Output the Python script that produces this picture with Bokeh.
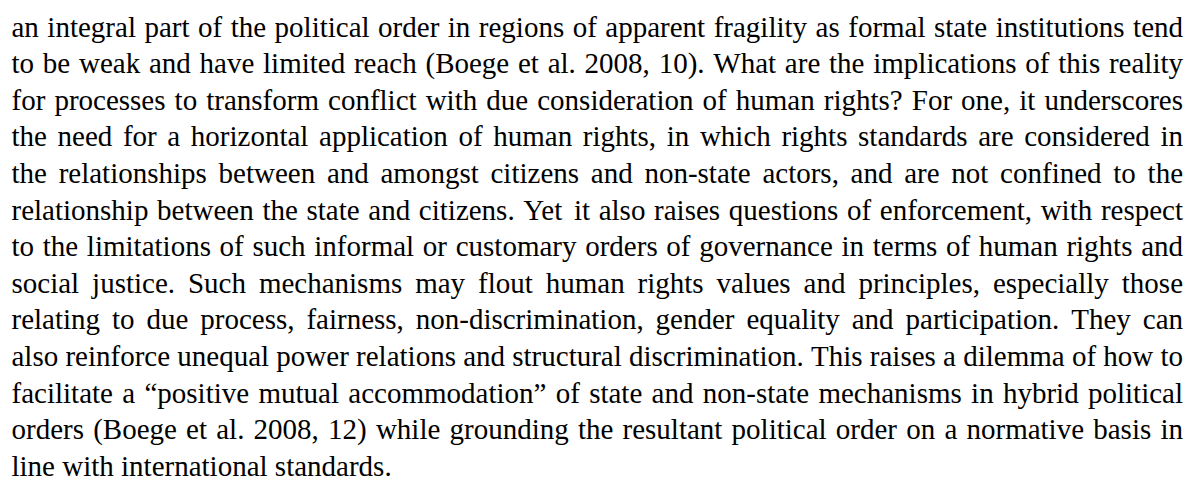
import glob
import struct

from bokeh.core.properties import value
from bokeh.embed import file_html
from bokeh.models import ColumnDataSource, Range1d
from bokeh.plotting import figure
from bokeh.resources import INLINE

# ---- content -------------------------------------------------------------
lines = [
    "an integral part of the political order in regions of apparent fragility as formal state institutions tend",
    "to be weak and have limited reach (Boege et al. 2008, 10). What are the implications of this reality",
    "for processes to transform conflict with due consideration of human rights? For one, it underscores",
    "the need for a horizontal application of human rights, in which rights standards are considered in",
    "the relationships between and amongst citizens and non-state actors, and are not confined to the",
    "relationship between the state and citizens. Yet it also raises questions of enforcement, with respect",
    "to the limitations of such informal or customary orders of governance in terms of human rights and",
    "social justice. Such mechanisms may flout human rights values and principles, especially those",
    "relating to due process, fairness, non-discrimination, gender equality and participation. They can",
    "also reinforce unequal power relations and structural discrimination. This raises a dilemma of how to",
    "facilitate a \u201cpositive mutual accommodation\u201d of state and non-state mechanisms in hybrid political",
    "orders (Boege et al. 2008, 12) while grounding the resultant political order on a normative basis in",
    "line with international standards.",
]
justified = [True] * 12 + [False]

# ---- layout / style ------------------------------------------------------
FONT = "Liberation Serif"
SIZE = 29.0
LEFT, RIGHT = 11.0, 1182.5
BASE0, LEAD = 34.0, 36.6
BASELINE_FIX = -8.0   # renderer draws alphabetic text a little below its anchor
W, H = 1184, 478      # fits the 1192x486 window with its 8px page margin


def find_font():
    pats = ["/usr/share/fonts/**/LiberationSerif-Regular.ttf",
            "/usr/local/share/fonts/**/LiberationSerif-Regular.ttf",
            "/usr/share/fonts/**/LiberationSerif*.ttf"]
    for pat in pats:
        hits = sorted(glob.glob(pat, recursive=True))
        hits = [h for h in hits if "Bold" not in h and "Italic" not in h] or hits
        if hits:
            return hits[0]
    return None


def make_measure(path):
    data = open(path, "rb").read()
    ntab = struct.unpack(">H", data[4:6])[0]
    tabs = {}
    for i in range(ntab):
        tag, _cs, off, ln = struct.unpack(">4sIII", data[12 + 16 * i:28 + 16 * i])
        tabs[tag.decode("latin1")] = off
    head = tabs["head"]
    upem = struct.unpack(">H", data[head + 18:head + 20])[0]
    hhea = tabs["hhea"]
    nhm = struct.unpack(">H", data[hhea + 34:hhea + 36])[0]
    hmtx = tabs["hmtx"]
    adv = [struct.unpack(">H", data[hmtx + 4 * i:hmtx + 4 * i + 2])[0] for i in range(nhm)]
    cmap = tabs["cmap"]
    n = struct.unpack(">H", data[cmap + 2:cmap + 4])[0]
    sub = None
    for i in range(n):
        pid, eid, off = struct.unpack(">HHI", data[cmap + 4 + 8 * i:cmap + 12 + 8 * i])
        fmt = struct.unpack(">H", data[cmap + off:cmap + off + 2])[0]
        if pid == 3 and eid == 1 and fmt == 4:
            sub = cmap + off
    segx2 = struct.unpack(">H", data[sub + 6:sub + 8])[0]
    segs = segx2 // 2
    ends = struct.unpack(">%dH" % segs, data[sub + 14:sub + 14 + segx2])
    so = sub + 16 + segx2
    starts = struct.unpack(">%dH" % segs, data[so:so + segx2])
    do = so + segx2
    deltas = struct.unpack(">%dh" % segs, data[do:do + segx2])
    ro = do + segx2
    ros = struct.unpack(">%dH" % segs, data[ro:ro + segx2])

    def gid(c):
        for i in range(segs):
            if ends[i] >= c:
                if starts[i] > c:
                    return 0
                if ros[i] == 0:
                    return (c + deltas[i]) & 0xFFFF
                addr = ro + 2 * i + ros[i] + 2 * (c - starts[i])
                g = struct.unpack(">H", data[addr:addr + 2])[0]
                return (g + deltas[i]) & 0xFFFF if g else 0
        return 0

    def measure(s):
        return sum(adv[min(gid(ord(ch)), nhm - 1)] for ch in s) * SIZE / upem

    return measure


try:
    measure = make_measure(find_font())
except Exception:
    measure = lambda s: len(s) * SIZE * 0.44

space_w = measure(" ")

# word positions (justified like the original paragraph)
lx, ly, lt = [], [], []   # left-aligned words
rx, ry, rt = [], [], []   # last word of justified lines, right-aligned
for i, (line, just) in enumerate(zip(lines, justified)):
    y = BASE0 + i * LEAD + BASELINE_FIX
    words = line.split(" ")
    widths = [measure(w) for w in words]
    if just and len(words) > 1:
        gap = (RIGHT - LEFT - sum(widths)) / (len(words) - 1)
    else:
        gap = space_w
    x = LEFT
    for j, (w, wd) in enumerate(zip(words, widths)):
        if just and j == len(words) - 1 and len(words) > 1:
            rx.append(RIGHT); ry.append(y); rt.append(w)
        else:
            lx.append(x); ly.append(y); lt.append(w)
        x += wd + gap

p = figure(width=W, height=H, output_backend="svg", toolbar_location=None,
           x_range=Range1d(0, W), y_range=Range1d(H, 0),
           min_border=0, outline_line_color=None, background_fill_color="white",
           border_fill_color="white")
p.xaxis.visible = False
p.yaxis.visible = False
p.grid.visible = False

common = dict(text_font=value(FONT), text_font_size="%gpx" % SIZE,
              text_baseline="alphabetic", text_color="#000000")
p.text(x="x", y="y", text="t", source=ColumnDataSource(dict(x=lx, y=ly, t=lt)),
       text_align="left", **common)
p.text(x="x", y="y", text="t", source=ColumnDataSource(dict(x=rx, y=ry, t=rt)),
       text_align="right", **common)

open("out.html", "w").write(file_html(p, INLINE))
